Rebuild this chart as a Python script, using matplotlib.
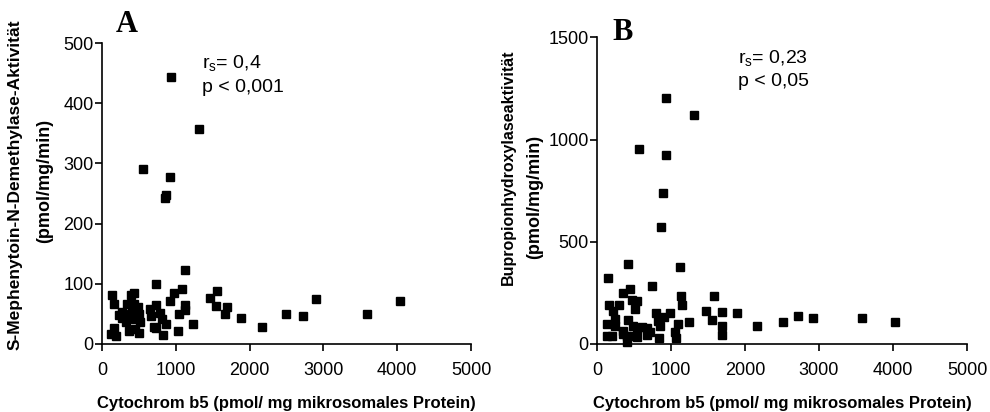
import matplotlib
matplotlib.use("Agg")
import matplotlib.pyplot as plt

plt.rcParams['font.family'] = ['Liberation Sans', 'DejaVu Sans']
plt.rcParams['mathtext.fontset'] = 'custom'
plt.rcParams['mathtext.rm'] = 'Liberation Sans'
plt.rcParams['mathtext.it'] = 'Liberation Sans'

# Panel A: S-Mephenytoin-N-Demethylase activity vs cytochrome b5
a_x = [932, 1316, 561, 918, 873, 851, 1126, 733, 1090, 1560, 981, 434, 389, 131,
       1461, 918, 163, 335, 1126, 1542, 1687, 729, 434, 493, 651, 1126, 1045, 1660,
       783, 1877, 2492, 231, 276, 661, 810, 389, 502, 447, 864, 1235, 710, 2162,
       321, 163, 366, 502, 1035, 832, 118, 186, 447, 729, 407, 276, 520,
       2718, 2904, 3591, 4039]
a_y = [443, 357, 291, 277, 248, 242, 123, 99, 92, 88, 84, 84, 82, 82,
       76, 71, 67, 67, 65, 63, 62, 65, 66, 61, 58, 56, 50, 50,
       51, 44, 50, 48, 44, 47, 42, 50, 50, 41, 33, 33, 29, 29,
       36, 26, 22, 19, 22, 15, 16, 13, 25, 26, 55, 53, 36,
       46, 74, 50, 71]

# Panel B: Bupropion hydroxylase activity vs cytochrome b5
b_x = [932, 1315, 563, 932, 892, 860, 423, 1122, 153, 748, 356, 446, 1577, 1135,
       469, 545, 1144, 167, 302, 514, 1473, 1689, 1888, 221, 797, 986, 910, 829,
       1550, 243, 423, 1243, 131, 1099, 491, 856, 1689, 2162, 243, 604, 671, 356,
       545, 716, 1054, 140, 198, 401, 491, 545, 842, 1063, 1689, 410, 356, 671,
       2518, 2716, 2915, 3585, 4023]
b_y = [1202, 1118, 954, 923, 738, 572, 392, 376, 325, 284, 251, 268, 233, 233,
       216, 212, 193, 193, 193, 171, 160, 157, 150, 160, 150, 150, 130, 114,
       119, 122, 117, 108, 98, 98, 90, 90, 87, 88, 87, 85, 77, 62,
       72, 57, 57, 41, 38, 41, 38, 33, 29, 29, 44, 8, 50, 46,
       109, 139, 129, 129, 109]

x_ticks = [0, 1000, 2000, 3000, 4000, 5000]
a_yticks = [0, 100, 200, 300, 400, 500]
b_yticks = [0, 500, 1000, 1500]

xlabel = "Cytochrom b5 (pmol/ mg mikrosomales Protein)"

W, H = 990, 412
fig = plt.figure(figsize=(W / 100, H / 100), dpi=100)

def px(x0, y0, x1, y1):
    return [x0 / W, 1 - y1 / H, (x1 - x0) / W, (y1 - y0) / H]

axA = fig.add_axes(px(102, 43, 471, 344))
axB = fig.add_axes(px(597, 37.3, 967, 344))

for ax, xs, ys, yt in [(axA, a_x, a_y, a_yticks), (axB, b_x, b_y, b_yticks)]:
    ax.plot(xs, ys, linestyle='none', marker='s', markersize=5.3,
            color='black', clip_on=False, zorder=3)
    ax.set_xlim(0, 5000)
    ax.set_ylim(yt[0], yt[-1])
    ax.set_xticks(x_ticks)
    ax.set_yticks(yt)
    for s in ['top', 'right']:
        ax.spines[s].set_visible(False)
    for s in ['left', 'bottom']:
        ax.spines[s].set_linewidth(1.2)
    ax.tick_params(axis='both', direction='out', length=5, width=1.2,
                   labelsize=13)
    ax.tick_params(axis='x', pad=8)
    ax.tick_params(axis='y', pad=1)
    ax.set_xlabel(xlabel, fontsize=12, fontweight='bold', labelpad=12)

# Y labels (two lines each)
fig.text(15 / W, 1 - 185 / H, "S-Mephenytoin-N-Demethylase-Aktivität",
         rotation=90, ha='center', va='center', fontsize=12.5, fontweight='bold')
fig.text(45 / W, 1 - 181 / H, "(pmol/mg/min)",
         rotation=90, ha='center', va='center', fontsize=13, fontweight='bold')
fig.text(508 / W, 1 - 167 / H, "Bupropionhydroxylaseaktivität",
         rotation=90, ha='center', va='center', fontsize=11.5, fontweight='bold')
fig.text(535 / W, 1 - 197 / H, "(pmol/mg/min)",
         rotation=90, ha='center', va='center', fontsize=13, fontweight='bold')

# Panel letters
fig.text(127 / W, 1 - 25 / H, "A", ha='center', va='center', fontsize=22,
         fontweight='bold', family='Liberation Serif')
fig.text(623 / W, 1 - 33 / H, "B", ha='center', va='center', fontsize=22,
         fontweight='bold', family='Liberation Serif')

# Statistics annotations
fig.text(202 / W, 1 - 63 / H, r"$\mathregular{r_s}$= 0,4", ha='left', va='center', fontsize=14)
fig.text(202 / W, 1 - 88 / H, "p < 0,001", ha='left', va='center', fontsize=14)
fig.text(738 / W, 1 - 58 / H, r"$\mathregular{r_s}$= 0,23", ha='left', va='center', fontsize=14)
fig.text(738 / W, 1 - 82 / H, "p < 0,05", ha='left', va='center', fontsize=14)

fig.savefig("out.png", dpi=100)
